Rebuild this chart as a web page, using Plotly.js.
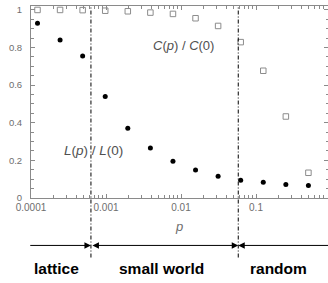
<!DOCTYPE html>
<html>
<head>
<meta charset="utf-8">
<script src="https://cdn.plot.ly/plotly-3.0.1.min.js"></script>
<style>html,body{margin:0;padding:0;background:#fff}#chart{width:328px;height:283px}</style>
</head>
<body>
<div id="chart"></div>
<script>
// rewiring probability p (log scale)
const pValues = [0.00012207, 0.00024414, 0.00048828, 0.00097656, 0.0019531, 0.0039063, 0.0078125, 0.015625, 0.03125, 0.0625, 0.125, 0.25, 0.5];
// normalised characteristic path length L(p)/L(0)
const lValues = [0.928, 0.840, 0.754, 0.539, 0.370, 0.266, 0.195, 0.149, 0.116, 0.094, 0.084, 0.072, 0.066];
// normalised clustering coefficient C(p)/C(0)
const cValues = [0.999, 0.999, 0.998, 0.995, 0.992, 0.985, 0.978, 0.955, 0.914, 0.828, 0.676, 0.433, 0.134];
// boundaries between regimes
const regimeBounds = [0.00063, 0.058];
const regimeLabels = ['lattice', 'small world', 'random'];
// axis ticks
const xTickVals = [0.0001, 0.001, 0.01, 0.1];
const xTickText = ['0.0001', '0.001', '0.01', '0.1'];
const yTickVals = [0, 0.2, 0.4, 0.6, 0.8, 1];
const yTickText = ['0', '0.2', '0.4', '0.6', '0.8', '1'];

const xMinor = [];
for (let e = -4; e < 0; e++) {
  for (let m = 2; m <= 9; m++) xMinor.push(m * Math.pow(10, e));
}

const FONT = 'Liberation Sans, Arial, Helvetica, sans-serif';
const AXIS_COLOR = '#8a8a8a';
const xRange = [-4, -0.04];

const traces = [
  {
    x: pValues, y: cValues, type: 'scatter', mode: 'markers',
    marker: {symbol: 'square-open', size: 5.5, color: '#8c8c8c', line: {width: 1, color: '#8c8c8c'}},
    hoverinfo: 'none'
  },
  {
    x: pValues, y: lValues, type: 'scatter', mode: 'markers',
    marker: {symbol: 'circle', size: 5, color: '#000'},
    hoverinfo: 'none'
  }
];

const shapes = regimeBounds.map(b => ({
  type: 'line', xref: 'x', yref: 'paper', x0: b, x1: b, y0: -0.31, y1: 1,
  line: {color: '#000', width: 1, dash: '4px,2px,1px,2px'}
}));

const arrowY = -0.247;
const labelY = -0.366;
const lb0 = Math.log10(regimeBounds[0]);
const lb1 = Math.log10(regimeBounds[1]);
const lbl = (x, y, text, size, color) => ({
  xref: 'paper', yref: 'paper', x: x, y: y, xanchor: 'center', yanchor: 'middle',
  text: text, showarrow: false, font: {family: FONT, size: size, color: color}
});
const annotations = [
  {xref: 'x', yref: 'paper', x: lb0, y: arrowY, axref: 'x', ayref: 'pixel', ax: xRange[0] - 0.03, ay: 0,
   text: '', showarrow: true, arrowhead: 2, arrowsize: 1.3, arrowwidth: 1, arrowcolor: '#000', standoff: 0},
  {xref: 'x', yref: 'paper', x: lb1, y: arrowY, axref: 'x', ayref: 'pixel', ax: lb0, ay: 0,
   text: '', showarrow: true, arrowhead: 2, startarrowhead: 2, arrowside: 'end+start', arrowsize: 1.3, startarrowsize: 1.3,
   arrowwidth: 1, arrowcolor: '#000', standoff: 0, startstandoff: 0},
  {xref: 'x', yref: 'paper', x: lb1, y: arrowY, axref: 'x', ayref: 'pixel', ax: xRange[1] + 0.05, ay: 0,
   text: '', showarrow: true, arrowhead: 2, arrowsize: 1.3, arrowwidth: 1, arrowcolor: '#000', standoff: 0},
  lbl(0.0875, labelY, '<b>' + regimeLabels[0] + '</b>', 15.5, '#000'),
  lbl(0.441, labelY, '<b>' + regimeLabels[1] + '</b>', 15.5, '#000'),
  lbl(0.832, labelY, '<b>' + regimeLabels[2] + '</b>', 15.5, '#000'),
  lbl(0.515, 0.792, '<i>C</i>(<i>p</i>) / <i>C</i>(0)', 13, '#505050'),
  lbl(0.21, 0.247, '<i>L</i>(<i>p</i>) / <i>L</i>(0)', 13.5, '#505050')
];

const layout = {
  width: 328, height: 283,
  margin: {l: 31, r: 0, t: 6, b: 84.5, pad: 0},
  paper_bgcolor: '#fff', plot_bgcolor: '#fff',
  showlegend: false,
  font: {family: FONT, color: '#6e6e6e'},
  xaxis: {
    type: 'log', range: xRange,
    tickmode: 'array', tickvals: xTickVals, ticktext: xTickText,
    ticks: 'inside', ticklen: 4, tickwidth: 1, tickcolor: AXIS_COLOR,
    minor: {tickmode: 'array', tickvals: xMinor, ticks: 'inside', ticklen: 3, tickwidth: 1, tickcolor: AXIS_COLOR, showgrid: false},
    showline: true, linecolor: AXIS_COLOR, linewidth: 1, mirror: 'ticks',
    showgrid: false, zeroline: false,
    tickfont: {family: FONT, size: 10, color: '#6e6e6e'},
    title: {text: '<i>p</i>', font: {family: FONT, size: 13, color: '#6e6e6e'}, standoff: 9}
  },
  yaxis: {
    range: [0, 1.02],
    tickmode: 'array', tickvals: yTickVals, ticktext: yTickText,
    ticks: 'inside', ticklen: 4, tickwidth: 1, tickcolor: AXIS_COLOR,
    minor: {dtick: 0.05, ticks: 'inside', ticklen: 2.5, tickwidth: 1, tickcolor: AXIS_COLOR, showgrid: false},
    showline: true, linecolor: AXIS_COLOR, linewidth: 1, mirror: 'ticks',
    showgrid: false, zeroline: false,
    tickfont: {family: FONT, size: 9.5, color: '#6e6e6e'},
    ticklabelstandoff: 6
  },
  shapes: shapes,
  annotations: annotations
};

Plotly.newPlot('chart', traces, layout, {staticPlot: true, displayModeBar: false});
</script>
</body>
</html>
